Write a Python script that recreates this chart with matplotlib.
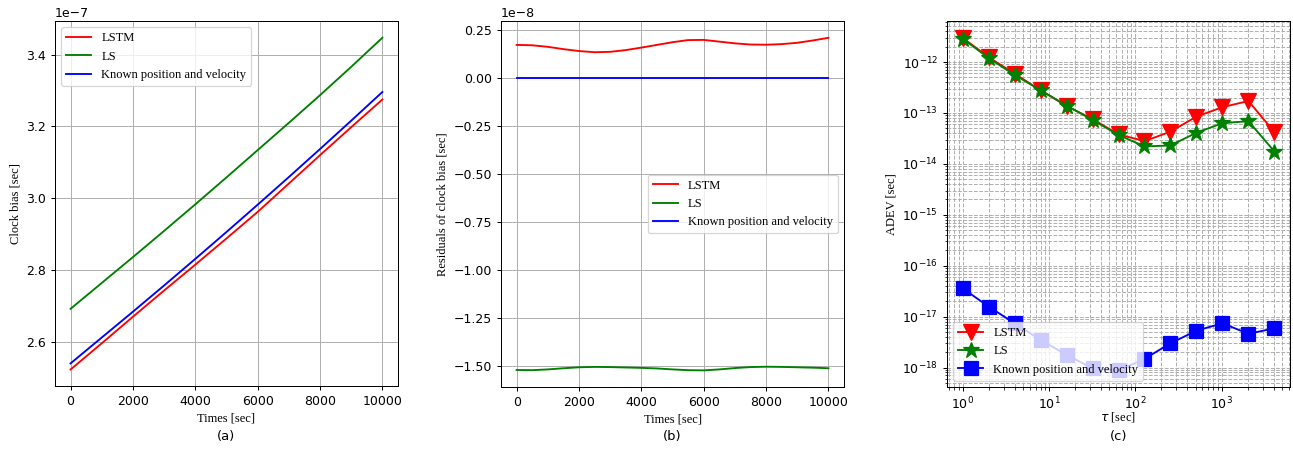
import numpy as np
import matplotlib
matplotlib.use("Agg")
import matplotlib.pyplot as plt

# clock bias over the test window [1e-7 s]
t_coarse = [0, 1000, 2000, 3000, 4000, 5000, 6000, 7000, 8000, 9000, 10000]
bias_lstm = [2.523, 2.596, 2.670, 2.743, 2.815, 2.888, 2.962, 3.041, 3.120, 3.198, 3.275]
bias_ls = [2.692, 2.764, 2.836, 2.909, 2.983, 3.058, 3.134, 3.210, 3.287, 3.366, 3.447]
bias_known = [2.540, 2.612, 2.684, 2.757, 2.831, 2.906, 2.982, 3.059, 3.137, 3.216, 3.296]

# residuals w.r.t. known position/velocity solution [1e-8 s]
t_fine = [0, 500, 1000, 1500, 2000, 2500, 3000, 3500, 4000, 4500, 5000,
          5500, 6000, 6500, 7000, 7500, 8000, 8500, 9000, 9500, 10000]
res_lstm = [0.170, 0.168, 0.160, 0.148, 0.138, 0.132, 0.134, 0.143, 0.156, 0.170, 0.184,
            0.195, 0.196, 0.187, 0.178, 0.172, 0.171, 0.174, 0.181, 0.193, 0.207]
res_ls = [-1.519, -1.520, -1.516, -1.510, -1.505, -1.503, -1.504, -1.506, -1.508, -1.511, -1.516,
          -1.520, -1.521, -1.516, -1.509, -1.504, -1.502, -1.503, -1.505, -1.507, -1.510]
res_known = [0.0] * len(t_fine)

# Allan deviation
tau = [1, 2, 4, 8, 16, 32, 64, 128, 256, 512, 1024, 2048, 4096]
adev_lstm = [3.0e-12, 1.25e-12, 5.9e-13, 2.8e-13, 1.37e-13, 7.6e-14, 3.8e-14,
             2.8e-14, 4.3e-14, 8.5e-14, 1.3e-13, 1.72e-13, 4.2e-14]
adev_ls = [2.9e-12, 1.2e-12, 5.6e-13, 2.8e-13, 1.4e-13, 7.3e-14, 3.7e-14,
           2.2e-14, 2.3e-14, 4.1e-14, 6.3e-14, 6.9e-14, 1.75e-14]
adev_known = [3.6e-17, 1.58e-17, 7.4e-18, 3.5e-18, 1.77e-18, 9.7e-19, 8.8e-19,
              1.48e-18, 3.0e-18, 5.3e-18, 7.4e-18, 4.6e-18, 5.9e-18]

names = ["LSTM", "LS", "Known position and velocity"]
serif = "Liberation Serif"

fig = plt.figure(figsize=(1293 / 90, 450 / 90), dpi=90)
ax1 = fig.add_axes([0.0425, 0.142, 0.2653, 0.811])
ax2 = fig.add_axes([0.3875, 0.140, 0.2653, 0.813])
ax3 = fig.add_axes([0.7324, 0.140, 0.2653, 0.813])

# (a) clock bias
ax1.plot(t_coarse, np.array(bias_lstm) * 1e-7, color="red", label=names[0])
ax1.plot(t_coarse, np.array(bias_ls) * 1e-7, color="green", label=names[1])
ax1.plot(t_coarse, np.array(bias_known) * 1e-7, color="blue", label=names[2])
ax1.grid(True)
ax1.set_xlabel("Times [sec]", family=serif)
ax1.set_ylabel("Clock bias [sec]", family=serif)
ax1.legend(loc="upper left", prop={"family": serif})

# (b) residuals
ax2.plot(t_fine, np.array(res_lstm) * 1e-8, color="red", label=names[0])
ax2.plot(t_fine, np.array(res_ls) * 1e-8, color="green", label=names[1])
ax2.plot(t_fine, np.array(res_known) * 1e-8, color="blue", label=names[2])
ax2.grid(True)
ax2.set_xlabel("Times [sec]", family=serif)
ax2.set_ylabel("Residuals of clock bias [sec]", family=serif)
ax2.legend(loc="center right", prop={"family": serif})

# (c) ADEV
ax3.loglog(tau, adev_lstm, color="red", marker="v", ms=13, label=names[0])
ax3.loglog(tau, adev_ls, color="green", marker="*", ms=13, label=names[1])
ax3.loglog(tau, adev_known, color="blue", marker="s", ms=11, label=names[2])
ax3.grid(True, which="both", ls="--", color="#b0b0b0", lw=0.8)
ax3.set_xlabel(r"$\tau$ [sec]", family=serif, labelpad=-1.5)
ax3.set_ylabel("ADEV [sec]", family=serif)
ax3.legend(loc="lower left", prop={"family": serif})

# panel tags under each plot
for ax, tag in zip([ax1, ax2, ax3], ["(a)", "(b)", "(c)"]):
    box = ax.get_position()
    fig.text(box.x0 + box.width / 2, 0.029, tag, ha="center", va="center", fontsize=10.5)

fig.savefig("out.png", dpi=90)
